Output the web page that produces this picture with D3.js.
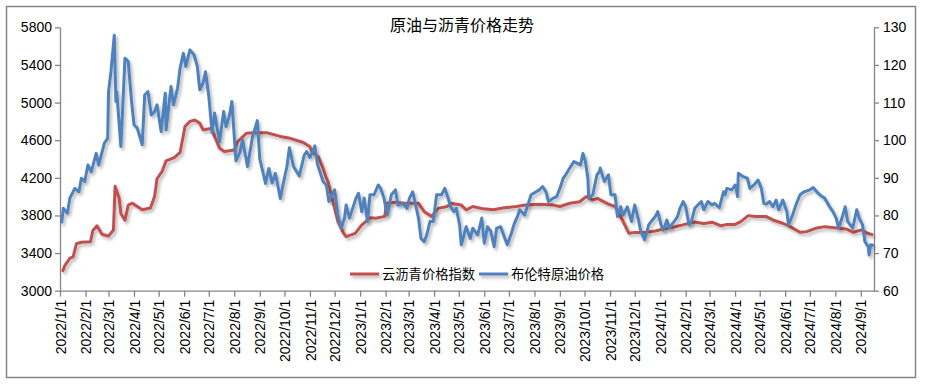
<!DOCTYPE html>
<html>
<head>
<meta charset="utf-8">
<script src="https://cdn.jsdelivr.net/npm/d3@7"></script>
<style>
  body { margin: 0; background: #fff; }
  text { font-family: "Liberation Sans", "Noto Sans CJK SC", sans-serif; fill: #000; }
</style>
</head>
<body>
<div id="graphic"></div>
<script>
// series names (legend)
var seriesNames = ["云沥青价格指数", "布伦特原油价格"];
var titleText = "原油与沥青价格走势";

// tick values
var leftTicks = [3000, 3400, 3800, 4200, 4600, 5000, 5400, 5800];
var rightTicks = [60, 70, 80, 90, 100, 110, 120, 130];

// 云沥青价格指数 (left axis)
var asphalt = [
 ["2022-01-04",3200],["2022-01-07",3270],["2022-01-13",3345],["2022-01-17",3360],
 ["2022-01-21",3500],["2022-01-27",3515],["2022-02-07",3520],["2022-02-10",3640],
 ["2022-02-15",3690],["2022-02-21",3600],["2022-03-01",3580],["2022-03-07",3645],
 ["2022-03-09",4110],["2022-03-14",3980],["2022-03-16",3820],["2022-03-21",3750],
 ["2022-03-25",3910],["2022-03-30",3930],["2022-04-11",3860],["2022-04-21",3880],
 ["2022-04-26",4000],["2022-04-29",4190],["2022-05-05",4265],["2022-05-10",4380],
 ["2022-05-20",4415],["2022-05-27",4470],["2022-05-31",4650],["2022-06-02",4745],
 ["2022-06-08",4800],["2022-06-14",4815],["2022-06-20",4780],["2022-06-24",4710],
 ["2022-07-04",4725],["2022-07-08",4640],["2022-07-14",4515],["2022-07-20",4480],
 ["2022-08-01",4495],["2022-08-05",4585],["2022-08-16",4675],["2022-08-24",4680],
 ["2022-09-09",4680],["2022-09-26",4640],["2022-10-08",4620],["2022-10-24",4575],
 ["2022-11-01",4530],["2022-11-03",4480],["2022-11-11",4425],["2022-11-17",4300],
 ["2022-11-21",4195],["2022-11-23",4160],["2022-11-29",3945],["2022-12-05",3735],
 ["2022-12-12",3610],["2022-12-15",3575],["2022-12-26",3610],["2023-01-03",3700],
 ["2023-01-06",3720],["2023-01-13",3775],["2023-01-20",3770],["2023-01-31",3790],
 ["2023-02-02",3930],["2023-02-13",3940],["2023-02-24",3930],["2023-03-13",3930],
 ["2023-03-20",3840],["2023-03-29",3790],["2023-04-06",3875],["2023-04-17",3895],
 ["2023-04-21",3930],["2023-05-04",3910],["2023-05-10",3860],["2023-05-18",3895],
 ["2023-05-31",3870],["2023-06-12",3860],["2023-06-23",3880],["2023-07-10",3895],
 ["2023-07-21",3910],["2023-08-07",3920],["2023-08-24",3910],["2023-09-01",3895],
 ["2023-09-13",3930],["2023-09-25",3945],["2023-10-03",4000],["2023-10-11",3965],
 ["2023-10-17",3980],["2023-10-20",3965],["2023-10-30",3920],["2023-11-07",3895],
 ["2023-11-13",3805],["2023-11-20",3680],["2023-11-24",3610],["2023-12-01",3620],
 ["2023-12-13",3620],["2023-12-26",3635],["2024-01-05",3655],["2024-01-19",3680],
 ["2024-01-31",3705],["2024-02-12",3730],["2024-02-23",3715],["2024-03-04",3728],
 ["2024-03-15",3690],["2024-03-22",3705],["2024-04-01",3705],["2024-04-08",3735],
 ["2024-04-17",3798],["2024-04-26",3788],["2024-05-09",3788],["2024-05-17",3752],
 ["2024-05-29",3717],["2024-06-07",3681],["2024-06-19",3621],["2024-06-27",3628],
 ["2024-07-08",3663],["2024-07-19",3681],["2024-07-31",3670],["2024-08-14",3656],
 ["2024-08-23",3621],["2024-09-02",3646],["2024-09-09",3611],["2024-09-16",3593]
];

// 布伦特原油价格 (right axis)
var brent = [
 ["2022-01-03",77.9],["2022-01-05",81.9],["2022-01-10",80.6],["2022-01-13",84.6],
 ["2022-01-19",87.2],["2022-01-24",86.3],["2022-01-27",89.9],["2022-01-31",89.0],
 ["2022-02-04",93.4],["2022-02-08",91.6],["2022-02-14",96.5],["2022-02-17",93.4],
 ["2022-02-24",99.2],["2022-02-28",100.5],["2022-03-01",112.9],["2022-03-04",118.2],
 ["2022-03-08",127.9],["2022-03-10",110.3],["2022-03-11",112.9],["2022-03-16",98.3],
 ["2022-03-18",107.6],["2022-03-21",121.8],["2022-03-25",120.9],["2022-03-29",110.3],
 ["2022-04-01",104.1],["2022-04-05",103.2],["2022-04-11",98.8],["2022-04-14",112.0],
 ["2022-04-18",112.9],["2022-04-22",106.7],["2022-04-26",107.6],["2022-04-29",109.4],
 ["2022-05-04",102.3],["2022-05-09",112.5],["2022-05-10",102.7],["2022-05-16",114.3],
 ["2022-05-19",109.4],["2022-05-24",113.8],["2022-05-27",119.1],["2022-05-31",123.1],
 ["2022-06-03",119.6],["2022-06-08",124.0],["2022-06-13",122.7],["2022-06-17",119.6],
 ["2022-06-20",113.4],["2022-06-24",115.2],["2022-06-27",118.2],["2022-07-01",111.6],
 ["2022-07-05",102.0],["2022-07-08",107.2],["2022-07-14",99.5],["2022-07-19",107.6],
 ["2022-07-22",103.6],["2022-07-26",106.5],["2022-07-29",110.3],["2022-08-03",94.5],
 ["2022-08-08",96.8],["2022-08-11",100.1],["2022-08-17",93.0],["2022-08-23",100.8],
 ["2022-08-29",105.2],["2022-09-01",95.0],["2022-09-08",88.5],["2022-09-12",92.5],
 ["2022-09-16",88.6],["2022-09-20",91.2],["2022-09-26",84.5],["2022-09-30",89.0],
 ["2022-10-04",93.0],["2022-10-07",98.0],["2022-10-12",93.0],["2022-10-19",90.5],
 ["2022-10-25",96.0],["2022-10-28",97.0],["2022-11-01",95.4],["2022-11-07",98.5],
 ["2022-11-10",93.7],["2022-11-17",89.0],["2022-11-21",88.1],["2022-11-24",83.7],
 ["2022-12-01",86.8],["2022-12-05",80.1],["2022-12-09",76.6],["2022-12-13",79.3],
 ["2022-12-15",82.8],["2022-12-19",79.3],["2022-12-23",81.9],["2022-12-27",84.6],
 ["2022-12-30",85.9],["2023-01-03",81.0],["2023-01-06",84.6],["2023-01-10",78.4],
 ["2023-01-13",85.5],["2023-01-18",85.5],["2023-01-23",88.1],["2023-01-26",87.2],
 ["2023-01-30",84.6],["2023-02-03",80.1],["2023-02-08",85.5],["2023-02-13",86.8],
 ["2023-02-16",82.8],["2023-02-22",83.2],["2023-02-27",81.9],["2023-03-02",84.6],
 ["2023-03-06",86.3],["2023-03-10",82.3],["2023-03-13",79.3],["2023-03-16",73.9],
 ["2023-03-20",73.0],["2023-03-23",74.8],["2023-03-27",78.4],["2023-03-31",78.4],
 ["2023-04-04",85.5],["2023-04-10",85.5],["2023-04-14",87.2],["2023-04-18",84.6],
 ["2023-04-21",82.3],["2023-04-25",81.0],["2023-04-28",81.9],["2023-05-02",77.5],
 ["2023-05-04",72.2],["2023-05-10",77.0],["2023-05-15",73.9],["2023-05-18",76.6],
 ["2023-05-24",74.8],["2023-05-29",79.3],["2023-06-01",72.6],["2023-06-05",77.0],
 ["2023-06-09",75.7],["2023-06-13",71.7],["2023-06-16",76.6],["2023-06-21",77.0],
 ["2023-06-26",73.9],["2023-06-29",72.2],["2023-07-04",75.3],["2023-07-07",77.5],
 ["2023-07-12",80.1],["2023-07-14",81.5],["2023-07-20",80.1],["2023-07-24",82.8],
 ["2023-07-28",85.5],["2023-08-03",86.3],["2023-08-07",86.8],["2023-08-11",87.7],
 ["2023-08-15",86.3],["2023-08-18",83.7],["2023-08-24",84.6],["2023-08-28",85.0],
 ["2023-09-01",87.2],["2023-09-05",89.9],["2023-09-08",90.8],["2023-09-13",92.6],
 ["2023-09-18",94.3],["2023-09-22",93.9],["2023-09-26",93.4],["2023-09-29",96.5],
 ["2023-10-02",94.3],["2023-10-05",89.9],["2023-10-06",84.6],["2023-10-11",85.5],
 ["2023-10-16",90.8],["2023-10-19",91.6],["2023-10-20",92.6],["2023-10-25",89.0],
 ["2023-10-30",90.8],["2023-11-02",85.5],["2023-11-07",85.5],["2023-11-10",79.7],
 ["2023-11-14",82.3],["2023-11-17",80.1],["2023-11-22",82.3],["2023-11-27",78.4],
 ["2023-12-01",82.8],["2023-12-06",78.4],["2023-12-08",76.1],["2023-12-13",73.5],
 ["2023-12-18",77.5],["2023-12-21",78.4],["2023-12-26",79.7],["2023-12-29",81.0],
 ["2024-01-02",77.5],["2024-01-05",76.1],["2024-01-09",78.8],["2024-01-12",76.6],
 ["2024-01-18",78.4],["2024-01-22",79.7],["2024-01-25",81.9],["2024-01-29",83.7],
 ["2024-02-01",82.3],["2024-02-05",77.5],["2024-02-08",78.4],["2024-02-12",81.9],
 ["2024-02-16",82.8],["2024-02-20",83.7],["2024-02-23",81.5],["2024-02-28",83.7],
 ["2024-03-04",82.8],["2024-03-07",83.2],["2024-03-13",82.1],["2024-03-18",86.3],
 ["2024-03-20",85.5],["2024-03-22",87.2],["2024-03-28",86.8],["2024-04-01",88.1],
 ["2024-04-02",87.7],["2024-04-04",85.0],["2024-04-05",91.2],["2024-04-11",90.3],
 ["2024-04-16",89.9],["2024-04-19",87.2],["2024-04-24",88.1],["2024-04-29",89.4],
 ["2024-05-03",87.2],["2024-05-06",83.2],["2024-05-09",83.0],["2024-05-13",83.7],
 ["2024-05-17",82.3],["2024-05-21",84.1],["2024-05-24",81.5],["2024-05-29",84.1],
 ["2024-06-03",81.0],["2024-06-05",77.5],["2024-06-10",80.1],["2024-06-14",82.8],
 ["2024-06-19",85.5],["2024-06-24",86.3],["2024-07-01",86.8],["2024-07-05",87.4],
 ["2024-07-11",85.9],["2024-07-16",85.0],["2024-07-19",84.6],["2024-07-25",82.3],
 ["2024-07-29",81.0],["2024-08-02",79.3],["2024-08-05",76.6],["2024-08-09",79.3],
 ["2024-08-13",82.3],["2024-08-16",78.4],["2024-08-22",76.6],["2024-08-27",81.5],
 ["2024-08-30",79.3],["2024-09-03",77.5],["2024-09-06",73.0],["2024-09-10",71.7],
 ["2024-09-11",69.5],["2024-09-13",72.2],["2024-09-17",72.0]
];

var parse = d3.utcParse("%Y-%m-%d");
var fmt = d3.utcFormat("%Y/%-m/%-d");

var W = 925, H = 384;
var plot = {left: 60, right: 874, top: 27.3, bottom: 290.7};
var axisColor = "#868686";

var svg = d3.select("#graphic").append("svg")
    .attr("width", W)
    .attr("height", H);

// drop shadow like the excel line effect
// userSpaceOnUse so it also works on the flat legend lines
var defs = svg.append("defs");
var f = defs.append("filter").attr("id", "shadow")
    .attr("filterUnits", "userSpaceOnUse")
    .attr("x", -1000).attr("y", -1000).attr("width", 3000).attr("height", 3000);
f.append("feDropShadow")
    .attr("dx", 2).attr("dy", 2.5).attr("stdDeviation", 1.4)
    .attr("flood-color", "#000").attr("flood-opacity", 0.28);

// outer frame
svg.append("rect")
    .attr("x", 6.5).attr("y", 6.5)
    .attr("width", 909).attr("height", 371)
    .attr("fill", "#fff")
    .attr("stroke", axisColor)
    .attr("stroke-width", 1.5);

// scales
var x = d3.scaleUtc()
    .domain([parse("2022-01-01"), parse("2024-09-17")])
    .range([plot.left, plot.right]);
var yL = d3.scaleLinear().domain([3000, 5800]).range([plot.bottom, plot.top]);
var yR = d3.scaleLinear().domain([60, 130]).range([plot.bottom, plot.top]);

// title
svg.append("text")
    .attr("x", 462).attr("y", 31)
    .attr("text-anchor", "middle")
    .style("font-size", "16px")
    .text(titleText);

// x axis, monthly ticks
var months = d3.utcMonth.range(parse("2022-01-01"), parse("2024-09-02"));
var xAxis = svg.append("g")
    .attr("transform", "translate(0," + plot.bottom + ")")
    .call(d3.axisBottom(x).tickValues(months).tickSize(6).tickSizeOuter(0).tickFormat(fmt));
xAxis.selectAll("text")
    .attr("transform", "rotate(-90)")
    .attr("text-anchor", "end")
    .attr("x", -9)
    .attr("y", 0)
    .attr("dy", "0.36em")
    .style("font-size", "14px");

// left axis
var leftAxis = svg.append("g")
    .attr("transform", "translate(" + plot.left + ",0)")
    .call(d3.axisLeft(yL).tickValues(leftTicks).tickFormat(d3.format("d"))
        .tickSize(5).tickSizeOuter(0).tickPadding(3));
leftAxis.selectAll("text").style("font-size", "14px");

// right axis
var rightAxis = svg.append("g")
    .attr("transform", "translate(" + plot.right + ",0)")
    .call(d3.axisRight(yR).tickValues(rightTicks).tickFormat(d3.format("d"))
        .tickSize(5).tickSizeOuter(0).tickPadding(4));
rightAxis.selectAll("text").style("font-size", "14px");

svg.selectAll(".domain, .tick line")
    .attr("stroke", axisColor)
    .attr("stroke-width", 1.3);
svg.selectAll(".tick text").attr("fill", "#000");

// lines
var lineL = d3.line()
    .x(function (d) { return x(parse(d[0])); })
    .y(function (d) { return yL(d[1]); });
var lineR = d3.line()
    .x(function (d) { return x(parse(d[0])); })
    .y(function (d) { return yR(d[1]); });

svg.append("path")
    .datum(asphalt)
    .attr("d", lineL)
    .attr("fill", "none")
    .attr("stroke", "#C0504D")
    .attr("stroke-width", 3)
    .attr("stroke-linejoin", "round")
    .attr("filter", "url(#shadow)");

svg.append("path")
    .datum(brent)
    .attr("d", lineR)
    .attr("fill", "none")
    .attr("stroke", "#4F81BD")
    .attr("stroke-width", 3)
    .attr("stroke-linejoin", "round")
    .attr("filter", "url(#shadow)");

// legend
var legend = [
  {name: seriesNames[0], color: "#C0504D", x: 350},
  {name: seriesNames[1], color: "#4F81BD", x: 479}
];
var lg = svg.append("g").selectAll("g")
    .data(legend)
  .enter().append("g")
    .attr("transform", function (d) { return "translate(" + d.x + ",274)"; });
lg.append("line")
    .attr("x1", 0).attr("x2", 29)
    .attr("stroke", function (d) { return d.color; })
    .attr("stroke-width", 3)
    .attr("filter", "url(#shadow)");
lg.append("text")
    .attr("x", 32)
    .attr("dy", "0.36em")
    .style("font-size", "13.3px")
    .text(function (d) { return d.name; });
</script>
</body>
</html>
